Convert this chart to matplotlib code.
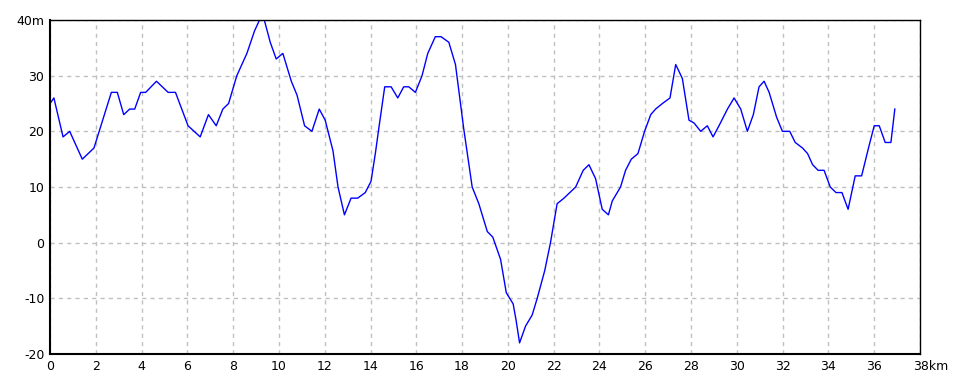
import numpy as np
import matplotlib.pyplot as plt

# distance (km) and elevation (m)
dist_km = [0.0, 0.17, 0.57, 0.86, 1.41, 1.92, 2.68, 2.94, 3.22, 3.48, 3.70, 3.96,
           4.18, 4.65, 5.16, 5.48, 6.03, 6.56, 6.92, 7.26, 7.55, 7.80, 8.16, 8.38,
           8.60, 8.93, 9.15, 9.36, 9.62, 9.88, 10.17, 10.54, 10.79, 11.12, 11.44,
           11.76, 12.02, 12.36, 12.58, 12.86, 13.15, 13.44, 13.77, 14.02, 14.21,
           14.36, 14.62, 14.90, 15.19, 15.45, 15.67, 15.96, 16.25, 16.50, 16.83,
           17.08, 17.42, 17.71, 18.07, 18.44, 18.73, 19.10, 19.34, 19.68, 19.93,
           20.23, 20.36, 20.51, 20.77, 21.06, 21.28, 21.61, 21.86, 22.15, 22.45,
           22.96, 23.29, 23.54, 23.83, 24.12, 24.39, 24.56, 24.92, 25.14, 25.39,
           25.68, 25.97, 26.24, 26.45, 26.75, 27.08, 27.33, 27.62, 27.91, 28.13,
           28.42, 28.71, 28.96, 29.22, 29.59, 29.88, 30.17, 30.46, 30.72, 30.97,
           31.19, 31.41, 31.74, 31.99, 32.31, 32.55, 32.87, 33.09, 33.31, 33.55,
           33.81, 34.08, 34.33, 34.59, 34.86, 35.17, 35.45, 35.75, 36.00, 36.22,
           36.48, 36.73, 36.90]
elev_m = [25, 26, 19, 20, 15, 17, 27, 27, 23, 24, 24, 27,
          27, 29, 27, 27, 21, 19, 23, 21, 24, 25, 30, 32,
          34, 38, 40, 40, 36, 33, 34, 29, 26.5, 21, 20,
          24, 22, 16.5, 10, 5, 8, 8, 9, 11, 16,
          20.5, 28, 28, 26, 28, 28, 27, 30, 34, 37,
          37, 36, 32, 20.5, 10, 7, 2, 1, -3, -9,
          -11, -14, -18, -15, -13, -10, -5, 0, 7, 8,
          10, 13, 14, 11.5, 6, 5, 7.5, 10, 13, 15,
          16, 20, 23, 24, 25, 26, 32, 29.5, 22, 21.5,
          20, 21, 19, 21, 24, 26, 24, 20, 23, 28,
          29, 27, 22.5, 20, 20, 18, 17, 16, 14, 13,
          13, 10, 9, 9, 6, 12, 12, 17, 21, 21,
          18, 18, 24]

x_ticks = list(range(0, 39, 2))
x_labels = [str(v) for v in x_ticks[:-1]] + [""]
y_ticks = [-20, -10, 0, 10, 20, 30, 40]
y_labels = ["-20", "-10", "0", "10", "20", "30", "40m"]

plt.rcParams['font.family'] = ['Liberation Sans Narrow', 'DejaVu Sans']

fig = plt.figure(figsize=(9.6, 3.84), dpi=100)
ax = fig.add_axes([50/960, 30/384, 870/960, 334/384])

ax.plot(dist_km, elev_m, color="#0000ff", lw=1)

ax.set_xlim(0, 38)
ax.set_ylim(-20, 40)
ax.set_xticks(x_ticks)
ax.set_xticklabels(x_labels, fontsize=9)
ax.set_yticks(y_ticks)
ax.set_yticklabels(y_labels, fontsize=9)
ax.tick_params(length=0, pad=4)

# last x label carries the unit, number sitting on the end of the axis
ax.annotate("38km", xy=(38, 0), xycoords=ax.get_xaxis_transform(),
            xytext=(-5, -4), textcoords="offset points",
            ha="left", va="top", fontsize=9)

ax.grid(True, color="#c0c0c0", linestyle=(0, (3, 3)), lw=1)
for s in ax.spines.values():
    s.set_color("black")
    s.set_linewidth(1)
ax.spines["left"].set_linewidth(1.5)
ax.spines["bottom"].set_linewidth(1.5)

fig.savefig("out.png", dpi=100)
